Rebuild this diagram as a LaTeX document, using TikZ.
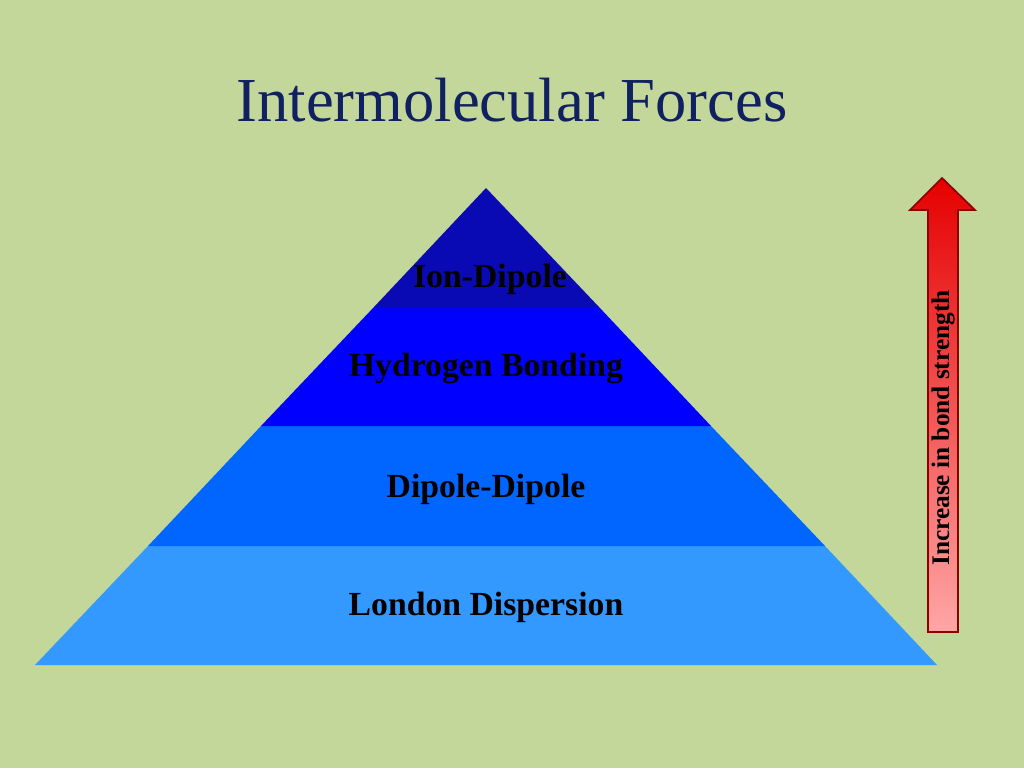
\documentclass[tikz,border=0pt]{standalone}
\usepackage{fontspec}
\setmainfont{Liberation Serif}
\usetikzlibrary{positioning}
\definecolor{bgreen}{RGB}{196,215,155}
\definecolor{navy}{RGB}{16,32,96}
\definecolor{bandA}{RGB}{10,10,180}
\definecolor{bandB}{RGB}{0,0,255}
\definecolor{bandC}{RGB}{0,102,255}
\definecolor{bandD}{RGB}{51,153,255}
\tikzset{band/.style = {draw=none},
         lvl/.style = {font=\bfseries\fontsize{24}{28}\selectfont}}

\begin{document}
\begin{tikzpicture}[x=0.25mm,y=-0.25mm]
                    \fill[bgreen] (0,0) rectangle (1024,768);
                    \useasboundingbox (0,0) rectangle (1024,768);

                    \node[text=navy,font=\fontsize{44.5}{52}\selectfont] (title) at (512,100) {Intermolecular Forces};

                    % pyramid bands
                    \fill[band,bandD] (148,546) -- (825,546) -- (937,665) -- (35,665) -- cycle;
                    \fill[band,bandC] (261,426) -- (711,426) -- (825,546) -- (148,546) -- cycle;
                    \fill[band,bandB] (374,307) -- (599,307) -- (711,426) -- (261,426) -- cycle;
                    \fill[band,bandA] (486,188) -- (599,307) -- (374,307) -- cycle;

                    \node[lvl] (ion) at (490,279) {Ion-Dipole};
                    \node[lvl] (hyd) at (486,369) {Hydrogen Bonding};
                    \node[lvl] (dip) at (486,489) {Dipole-Dipole};
                    \node[lvl] (lon) at (486,607) {London Dispersion};

                    % strength arrow
                    \shade[top color=red!90!black,bottom color=red!35!white,draw=red!55!black,line width=1.2pt]
                        (928,632) -- (928,210) -- (910,210) -- (942,178) -- (975,210) -- (958,210) -- (958,632) -- cycle;
                    \node[rotate=90,font=\bfseries\fontsize{18}{20}\selectfont] (incr) at (943,428) {Increase in bond strength};
                \end{tikzpicture}
\end{document}
